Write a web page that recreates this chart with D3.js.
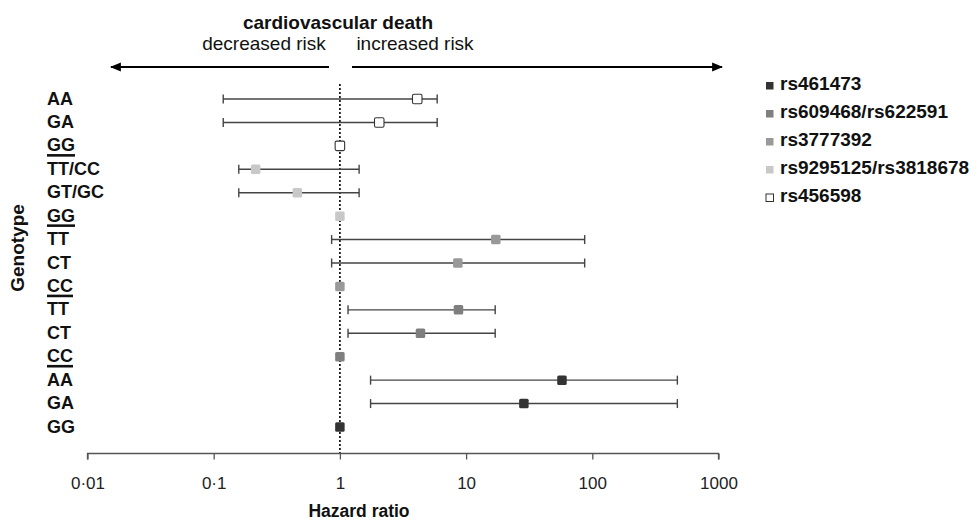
<!DOCTYPE html>
<html><head><meta charset="utf-8">
<script src="https://cdn.jsdelivr.net/npm/d3@7"></script>
<style>body{margin:0;background:#fff;} svg{display:block;font-family:"Liberation Sans",Arial,sans-serif;}</style>
</head><body>
<svg id="chart" width="971" height="521"></svg>
<script>
// Data (top to bottom)
const genotypes = ["AA","GA","GG","TT/CC","GT/GC","GG","TT","CT","CC","TT","CT","CC","AA","GA","GG"];
const reference = [false,false,true,false,false,true,false,false,true,false,false,true,false,false,false];
const snpOfRow = ["rs456598","rs456598","rs456598","rs9295125/rs3818678","rs9295125/rs3818678","rs9295125/rs3818678","rs3777392","rs3777392","rs3777392","rs609468/rs622591","rs609468/rs622591","rs609468/rs622591","rs461473","rs461473","rs461473"];
const hr    = [4.1, 2.05, 1, 0.215, 0.46, 1, 17.2, 8.6, 1, 8.7, 4.35, 1, 57.5, 28.7, 1];
const lower = [0.119, 0.119, null, 0.158, 0.158, null, 0.86, 0.86, null, 1.16, 1.16, null, 1.75, 1.75, null];
const upper = [5.9, 5.9, null, 1.42, 1.42, null, 87, 87, null, 17, 17, null, 472, 472, null];
const legendSnps = ["rs461473","rs609468/rs622591","rs3777392","rs9295125/rs3818678","rs456598"];
const legendFills = ["#333333","#7f7f7f","#999999","#c8c8c8","#ffffff"];
const tickValues = [0.01, 0.1, 1, 10, 100, 1000];
const tickLabels = ["0·01","0·1","1","10","100","1000"];

const svg = d3.select("#chart");
const x = d3.scaleLog().domain([0.01, 1000]).range([87.5, 718.5]);
const y = d3.scalePoint().domain(d3.range(genotypes.length)).range([99, 427]);
const color = d3.scaleOrdinal().domain(legendSnps).range(legendFills);

// Header
svg.append("text").attr("x", 338).attr("y", 29).attr("text-anchor","middle")
  .attr("font-size", 19).attr("font-weight","bold").attr("fill","#111").text("cardiovascular death");
svg.append("text").attr("x", 264).attr("y", 50).attr("text-anchor","middle")
  .attr("font-size", 19).attr("fill","#111").text("decreased risk");
svg.append("text").attr("x", 415).attr("y", 50).attr("text-anchor","middle")
  .attr("font-size", 19).attr("fill","#111").text("increased risk");

// Arrows
const defs = svg.append("defs");
defs.append("marker").attr("id","ah").attr("viewBox","0 0 10 10").attr("refX",9).attr("refY",5)
  .attr("markerWidth",5.5).attr("markerHeight",5.5).attr("orient","auto-start-reverse").attr("markerUnits","strokeWidth")
  .append("path").attr("d","M0,1 L10,5 L0,9 Z").attr("fill","#000");
svg.append("line").attr("x1", 329).attr("x2", 111).attr("y1", 67).attr("y2", 67)
  .attr("stroke","#000").attr("stroke-width",2).attr("marker-end","url(#ah)");
svg.append("line").attr("x1", 352).attr("x2", 722).attr("y1", 67).attr("y2", 67)
  .attr("stroke","#000").attr("stroke-width",2).attr("marker-end","url(#ah)");

// Reference dotted line
svg.append("line").attr("x1", x(1)).attr("x2", x(1)).attr("y1", 84).attr("y2", 453)
  .attr("stroke","#000").attr("stroke-width",1.6).attr("stroke-dasharray","2,2");

// Axis
const axis = d3.axisBottom(x).tickValues(tickValues).tickSize(6)
  .tickFormat((d,i) => tickLabels[i]);
const gAxis = svg.append("g").attr("transform","translate(0,453.5)").call(axis);
gAxis.select(".domain").attr("stroke","#555").attr("stroke-width",1.3).attr("d", `M${x(0.01)},6V0H${x(1000)}V6`);
gAxis.selectAll(".tick line").attr("stroke","#555").attr("stroke-width",1.3);
gAxis.selectAll(".tick text").attr("font-size",17).attr("fill","#222").attr("dy",null).attr("y",35)
  .attr("font-family",'"Liberation Sans",Arial,sans-serif');

svg.append("text").attr("x", 359).attr("y", 517).attr("text-anchor","middle")
  .attr("font-size", 17.5).attr("font-weight","bold").attr("fill","#111").text("Hazard ratio");

// Y title
svg.append("text").attr("transform","translate(24,248) rotate(-90)").attr("text-anchor","middle")
  .attr("font-size", 19).attr("font-weight","bold").attr("fill","#111").text("Genotype");

// Genotype labels
const labels = svg.append("g");
genotypes.forEach((g,i) => {
  const base = y(i) + 5.5;
  const t = labels.append("text").attr("x", 47).attr("y", base)
    .attr("font-size", 18).attr("font-weight","bold").attr("fill","#111").text(g);
  if (reference[i]) {
    const w = t.node().getComputedTextLength();
    labels.append("line").attr("x1", 47).attr("x2", 47 + w).attr("y1", base + 4).attr("y2", base + 4)
      .attr("stroke","#111").attr("stroke-width",2.6);
  }
});

// Error bars
const rows = d3.range(genotypes.length).filter(i => lower[i] !== null);
const eb = svg.append("g").attr("stroke","#444").attr("stroke-width",1.4);
rows.forEach(i => {
  eb.append("line").attr("x1", x(lower[i])).attr("x2", x(upper[i])).attr("y1", y(i)).attr("y2", y(i));
  [lower[i], upper[i]].forEach(v => eb.append("line").attr("x1", x(v)).attr("x2", x(v))
    .attr("y1", y(i) - 4.5).attr("y2", y(i) + 4.5));
});

// Points
const s = 9.5;
svg.append("g").selectAll("rect").data(d3.range(genotypes.length)).join("rect")
  .attr("x", i => x(hr[i]) - s/2).attr("y", i => y(i) - s/2)
  .attr("width", s).attr("height", s).attr("rx", 1.5)
  .attr("fill", i => color(snpOfRow[i]))
  .attr("stroke", i => snpOfRow[i] === "rs456598" ? "#333" : "none")
  .attr("stroke-width", 1.1);

// Legend
const lg = svg.append("g");
legendSnps.forEach((name,i) => {
  const base = 89.5 + i * 28;
  lg.append("rect").attr("x", 766).attr("y", base - 7.5).attr("width", 7.5).attr("height", 7.5)
    .attr("fill", color(name)).attr("stroke", name === "rs456598" ? "#333" : "none").attr("stroke-width",1);
  lg.append("text").attr("x", 780).attr("y", base).attr("font-size", 19).attr("font-weight","bold")
    .attr("fill","#111").text(name);
});
</script>
</body></html>
